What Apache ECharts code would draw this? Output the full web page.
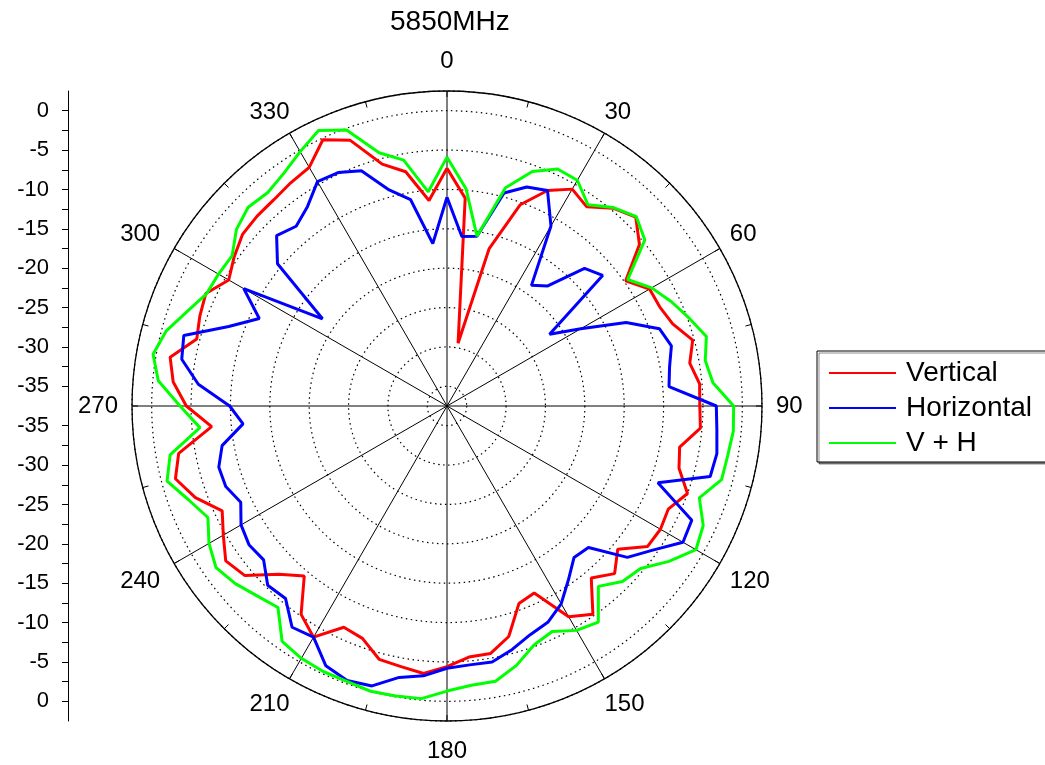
<!DOCTYPE html>
<html>
<head>
<meta charset="utf-8">
<script src="https://cdn.jsdelivr.net/npm/echarts@6/dist/echarts.min.js"></script>
<style>
html,body{margin:0;padding:0;background:#fff;}
#chart{width:1045px;height:765px;}
</style>
</head>
<body>
<div id="chart"></div>
<script>
// Angles (degrees, clockwise from top)
var angles = [0,5,10,15,20,25,30,35,40,45,50,55,60,65,70,75,80,85,90,95,100,105,110,115,120,125,130,135,140,145,150,155,160,165,170,175,
  180,185,190,195,200,205,210,215,220,225,230,235,240,245,250,255,260,265,270,275,280,285,290,295,300,305,310,315,320,325,330,335,340,345,350,355];

var vertical = [-7.3,-11.0,-29.4,-16.8,-10.3,-7.3,-5.7,-6.6,-4.7,-3.6,-5.6,-9.8,-7.8,-7.7,-7.0,-5.2,-6.2,-5.3,-5.4,-5.2,-7.5,-7.0,-5.0,-6.5,-6.2,-6.4,-9.2,-7.4,-9.0,-5.2,-6.6,-11.3,-10.8,-7.2,-5.6,-5.5,
  -4.4,-3.4,-3.9,-4.2,-6.1,-6.5,-3.6,-5.2,-9.3,-7.3,-4.0,-3.2,-4.7,-6.0,-3.5,-1.8,-2.9,-7.5,-4.4,-2.6,-1.8,-4.6,-4.1,-3.7,-5.5,-4.5,-3.6,-3.4,-3.3,-2.9,-2.5,-0.2,-1.6,-5.7,-7.3,-11.3];

var horizontal = [-11.0,-15.9,-15.6,-9.5,-7.9,-7.3,-11.1,-18.8,-17.6,-12.8,-11.7,-21.6,-17.9,-12.4,-8.8,-8.0,-8.8,-9.2,-3.3,-3.1,-2.7,-2.9,-9.0,-3.2,-2.9,-5.6,-7.6,-12.1,-12.4,-10.6,-8.5,-7.2,-6.6,-5.5,-4.5,-4.5,
  -4.2,-3.1,-2.5,-0.7,-0.4,-1.1,-3.6,-3.2,-5.6,-5.3,-7.1,-6.8,-7.3,-8.6,-7.6,-7.5,-8.5,-11.5,-9.9,-5.8,-3.3,-2.9,-8.0,-11.2,-7.7,-18.2,-9.4,-6.9,-7.7,-6.6,-4.6,-4.8,-5.7,-9.1,-10.9,-16.8];

var vPlusH = [-5.9,-9.8,-15.6,-8.8,-5.8,-4.3,-4.4,-6.3,-4.6,-3.5,-4.7,-9.5,-7.5,-6.1,-4.8,-3.4,-4.2,-3.6,-1.1,-1.0,-1.3,-1.4,-3.4,-1.6,-1.0,-3.1,-5.4,-6.0,-7.6,-4.0,-4.6,-5.9,-5.2,-3.4,-2.0,-1.9,
  -1.3,-0.2,-0.1,0.0,-0.3,-0.3,-0.5,-1.0,-4.1,-3.4,-2.4,-1.7,-2.6,-4.0,-2.6,-0.7,-1.8,-6.0,-3.6,-0.7,0.4,-0.6,-2.4,-3.8,-4.0,-4.2,-2.6,-1.8,-2.1,-1.4,-0.2,1.1,-0.2,-4.2,-5.8,-10.2];

var seriesNames = ['Vertical','Horizontal','V + H'];
var seriesColors = ['#ff0000','#0000ff','#00ff00'];
var angleLabels = [0,30,60,90,120,150,180,210,240,270,300,330];
var radialLabels = [-35,-30,-25,-20,-15,-10,-5,0];

var FONT = 'Arial, "Liberation Sans", sans-serif';
var RMIN = -37.5, RMAX = 2.5;

// label offsets (style only): padding [top,right,bottom,left] per angle label
var labelPad = {0:[0,0,18,0],30:[0,0,9,0],60:[0,0,2,10],90:[0,0,0,14],120:[6,0,0,10],150:[14,0,0,0],
  180:[18,0,0,0],210:[14,0,0,0],240:[6,14,0,0],270:[0,14,0,0],300:[0,14,2,0],330:[0,0,9,0]};
var angleRich = {};
angleLabels.forEach(function(a){
  angleRich['a' + a] = {fontFamily: FONT, fontSize: 24, color: '#000', padding: labelPad[a]};
});

function closed(vals){
  var d = angles.map(function(a,i){ return [vals[i], a]; });
  d.push([vals[0], 360]);
  return d;
}

// left axis values: mirrored around centre (v=0 is centre = RMIN)
var leftTickVals = [], leftLabelVals = [];
for (var k = 0; k < radialLabels.length; k++) {
  var off = radialLabels[k] - RMIN;
  leftLabelVals.push(off, -off);
}
for (var t = 2.5; t <= 37.5 + 1e-9; t += 2.5) { leftTickVals.push(t, -t); }

var chart = echarts.init(document.getElementById('chart'), null, {renderer:'canvas'});
var option = {
  backgroundColor: '#ffffff',
  animation: false,
  title: {
    text: '5850MHz',
    left: 385, top: 3,
    textStyle: {fontFamily: FONT, fontSize: 28, fontWeight: 'normal', color: '#000'}
  },
  legend: {
    data: seriesNames,
    orient: 'vertical',
    left: 817, top: 351,
    itemWidth: 67, itemHeight: 14, itemGap: 7,
    padding: [8, 60, 5, 11],
    borderColor: '#000', borderWidth: 1,
    backgroundColor: '#fff',
    shadowColor: 'rgba(0,0,0,0.45)', shadowBlur: 0, shadowOffsetX: 2, shadowOffsetY: 2,
    itemStyle: {opacity: 0},
    textStyle: {fontFamily: FONT, fontSize: 28, color: '#000', padding: [0,0,0,5]}
  },
  polar: {center: [447, 406], radius: 315},
  angleAxis: {
    type: 'value', min: 0, max: 360, interval: 30,
    startAngle: 90, clockwise: true,
    axisLine: {show: true, lineStyle: {color: '#000', width: 1.3}},
    axisTick: {show: true, inside: true, length: 6, lineStyle: {color: '#000'}},
    minorTick: {show: true, splitNumber: 2, length: 6, lineStyle: {color: '#000'}},
    axisLabel: {
      show: true, margin: 0, color: '#000', fontFamily: FONT, fontSize: 24,
      rich: angleRich,
      formatter: function(v){ return v === 360 ? '' : '{a' + v + '|' + v + '}'; }
    },
    splitLine: {show: true, lineStyle: {color: '#000', width: 1, type: 'solid'}}
  },
  radiusAxis: {
    type: 'value', min: RMIN, max: RMAX, splitNumber: 8,
    axisLine: {show: false}, axisTick: {show: false}, axisLabel: {show: false},
    splitLine: {show: true, lineStyle: {color: '#000', width: 1.2, type: [1.5, 3.5]}}
  },
  grid: {left: 68, top: 91, width: 10, height: 630},
  xAxis: {type: 'value', show: false, min: 0, max: 1},
  yAxis: {
    type: 'value', min: -40, max: 40, interval: 2.5,
    axisLine: {show: true, onZero: false, lineStyle: {color: '#000', width: 1}},
    axisTick: {show: true, length: 6, customValues: leftTickVals, lineStyle: {color: '#000'}},
    axisLabel: {
      show: true, margin: 19, color: '#000', fontFamily: FONT, fontSize: 22,
      customValues: leftLabelVals,
      formatter: function(v){
        var d = Math.round((Math.abs(v) + RMIN) * 10) / 10;
        if (d > 0 || Math.abs(v) < 2) return '';
        if (Math.abs(d % 5) > 1e-6) return '';
        return String(d);
      }
    },
    splitLine: {show: false}
  },
  series: [vertical, horizontal, vPlusH].map(function(vals, i){
    return {
      name: seriesNames[i], type: 'line', coordinateSystem: 'polar',
      data: closed(vals), symbol: 'none', smooth: false,
      lineStyle: {color: seriesColors[i], width: 3},
      itemStyle: {color: seriesColors[i]},
      z: 3 + i
    };
  })
};
chart.setOption(option);
</script>
</body>
</html>
